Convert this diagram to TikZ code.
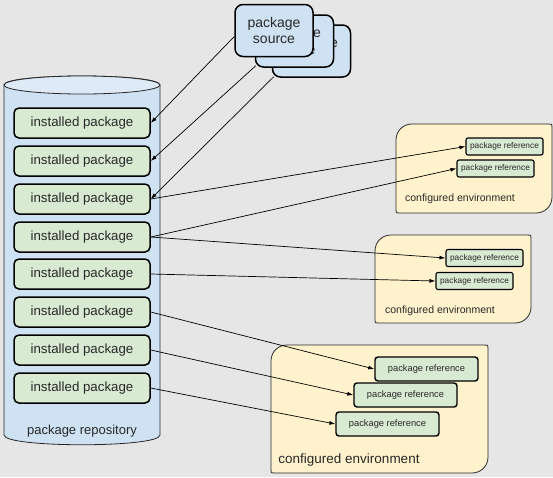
\documentclass[tikz,border=0pt]{standalone}
\usepackage{fontspec}
\setmainfont{Liberation Sans}
\usetikzlibrary{arrows.meta,calc}
\definecolor{bg}{RGB}{230,230,230}
\definecolor{repofill}{RGB}{207,226,243}
\definecolor{repotop}{RGB}{222,234,246}
\definecolor{pkgfill}{RGB}{217,234,211}
\definecolor{envfill}{RGB}{255,242,204}
\definecolor{edge}{RGB}{40,40,40}
\definecolor{txt}{RGB}{40,40,40}
\newcommand\envshape[4]{%
  \filldraw[fill=envfill,draw=edge,line width=0.8pt]
    (#1,#2+16) .. controls (#1,#2+7) and (#1+7,#2) .. (#1+16,#2)
    -- (#3-3,#2) .. controls (#3,#2) .. (#3,#2+3)
    -- (#3,#4-16) .. controls (#3,#4-7) and (#3-7,#4) .. (#3-16,#4)
    -- (#1+3,#4) .. controls (#1,#4) .. (#1,#4-3) -- cycle;}
\tikzset{
  every node/.style={text=txt},
  inst/.style={draw=black,fill=pkgfill,line width=1.5pt,rounded corners=5pt,
    minimum width=136pt,minimum height=30pt,inner sep=0pt,
    font=\fontsize{13.3}{15}\selectfont},
  srcbox/.style={draw=black,fill=repofill,line width=1.5pt,rounded corners=8pt,
    minimum width=78pt,minimum height=52pt,inner sep=0pt,align=center,
    font=\fontsize{14}{16.5}\selectfont},
  refs/.style={draw=black,fill=pkgfill,line width=1.1pt,rounded corners=2pt,
    minimum width=77pt,minimum height=17pt,inner sep=0pt,
    font=\fontsize{8.3}{9}\selectfont},
  refl/.style={draw=black,fill=pkgfill,line width=1.4pt,rounded corners=3pt,
    minimum width=103pt,minimum height=24pt,inner sep=0pt,
    font=\fontsize{9.3}{11}\selectfont},
  conn/.style={-{Latex[length=6pt,width=4pt]},line width=0.7pt,black},
  envlab/.style={font=\fontsize{10.5}{12}\selectfont},
}
\begin{document}
\begin{tikzpicture}[x=1pt,y=-1pt]
\fill[bg] (0,0) rectangle (553,477);
\useasboundingbox (0,0) rectangle (553,477);
% repository cylinder
\filldraw[fill=repofill,draw=edge,line width=0.8pt]
  (4,85) -- (4,435) .. controls (4,448) and (160,448) .. (160,435) -- (160,85)
  .. controls (160,73) and (4,73) .. (4,85) -- cycle;
\filldraw[fill=repotop,draw=edge,line width=0.8pt] (82,85) ellipse [x radius=78, y radius=9];
\node[font=\fontsize{13}{15}\selectfont] (repo) at (82,431) {package repository};
% installed packages
\foreach \i/\y in {1/123,2/161,3/199,4/237,5/274,6/312,7/350,8/388}{
  \node[inst] (ip\i) at (82,\y) {installed package};
}
% package sources
\node[srcbox] (src3) at (311.5,51) {package\\source};
\node[srcbox] (src2) at (294.5,41) {package\\source};
\node[srcbox] (src1) at (274,30.5) {package\\source};
% environments
\envshape{396}{124}{552}{213}
\envshape{375}{235}{531}{323}
\envshape{271}{345}{488}{473}
\node[envlab] (env1) at (460,199) {configured environment};
\node[envlab] (env2) at (440,311) {configured environment};
\node[font=\fontsize{13.5}{15}\selectfont] (env3) at (349,460) {configured environment};
\node[refs] (r11) at (504.5,146.5) {package reference};
\node[refs] (r12) at (495.5,168.5) {package reference};
\node[refs] (r21) at (484.5,258) {package reference};
\node[refs] (r22) at (474.5,281) {package reference};
\node[refl] (r31) at (426.5,369) {package reference};
\node[refl] (r32) at (405.5,395) {package reference};
\node[refl] (r33) at (387.5,424) {package reference};
% connectors
\draw[conn] ([yshift=-6pt]src1.west) -- (ip1.east);
\draw[conn] ([shift={(1pt,2pt)}]src2.south west) -- (ip2.east);
\draw[conn] ([shift={(2pt,1pt)}]src3.south west) -- (ip3.east);
\draw[conn] (ip3.east) -- (r11.west);
\draw[conn] (ip4.east) -- (r12.west);
\draw[conn] (ip4.east) -- (r21.west);
\draw[conn] (ip5.east) -- (r22.west);
\draw[conn] (ip6.east) -- (r31.west);
\draw[conn] (ip7.east) -- (r32.west);
\draw[conn] (ip8.east) -- (r33.west);
\end{tikzpicture}
\end{document}
